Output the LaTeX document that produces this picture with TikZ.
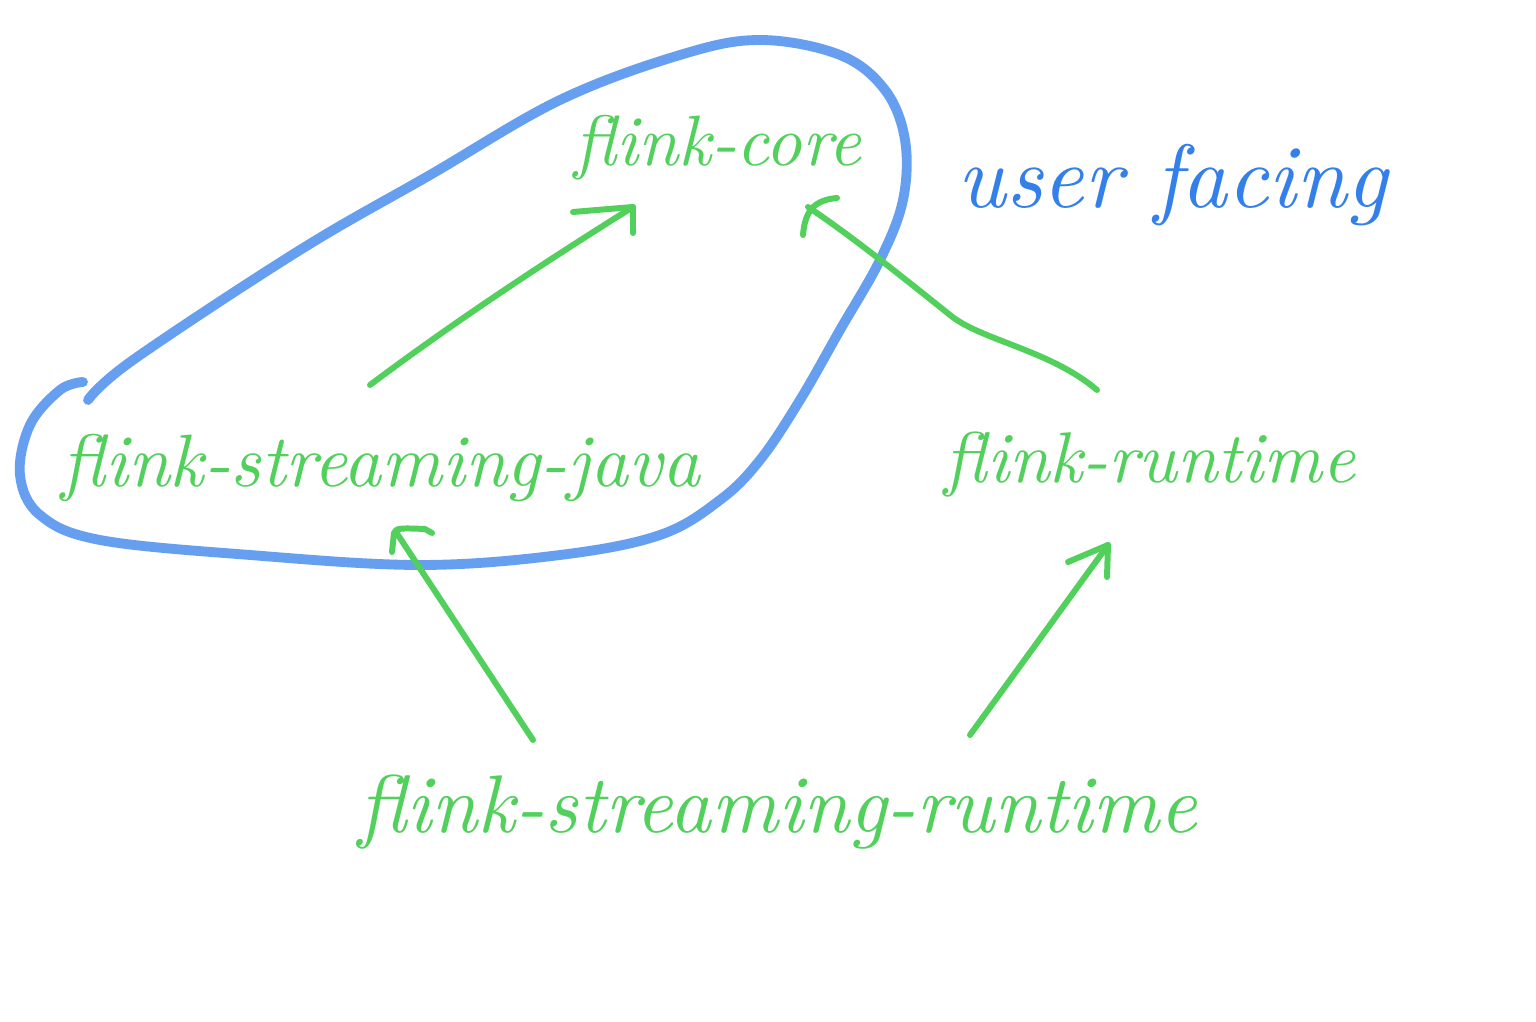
\documentclass[tikz,border=0pt]{standalone}
\usetikzlibrary{arrows.meta}
\definecolor{hgreen}{RGB}{82,208,92}
\definecolor{hblue}{RGB}{52,128,235}
\tikzset{
  lbl/.style={text=hgreen, inner sep=0pt},
  ulbl/.style={text=hblue, inner sep=0pt},
  link/.style={draw=hgreen, line width=1.7pt, line cap=round, line join=round},
  blob/.style={draw=hblue, line width=2.8pt, opacity=0.75, line cap=round, line join=round}
}
\begin{document}
\begin{tikzpicture}[x=0.01cm,y=-0.01cm]
\useasboundingbox[fill=white] (0,0) rectangle (1536,1022);

% blue outline around the user-facing modules
\draw[blob] plot[smooth, tension=0.6] coordinates {
  (88,400) (133,360) (300,250) (430,175) (560,100) (680,55) (760,40) (840,55)
  (885,90) (905,140) (903,200) (880,260) (840,330) (800,400) (760,460)
  (720,500) (660,535) (560,555) (420,565) (250,555) (100,540) (40,515)
  (20,475) (30,425) (60,390) (83,382)};

% labels
\node[lbl] (core) at (718,148) {\resizebox{2.87cm}{!}{\itshape flink-core}};
\node[ulbl] (uf) at (1173,185) {\resizebox{4.3cm}{!}{\itshape user facing}};
\node[lbl] (sj) at (381,468) {\resizebox{6.38cm}{!}{\itshape flink-streaming-java}};
\node[lbl] (rt) at (1150,465) {\resizebox{4.1cm}{!}{\itshape flink-runtime}};
\node[lbl] (sr) at (778,812) {\resizebox{8.38cm}{!}{\itshape flink-streaming-runtime}};

% connector end points
\coordinate (sjtop) at (370,385);
\coordinate (coretipL) at (633,207);
\coordinate (rttop) at (1097,390);
\coordinate (coretipR) at (808,207);
\coordinate (srL) at (533,740);
\coordinate (sjtip) at (396,532);
\coordinate (srR) at (970,735);
\coordinate (rttip) at (1108,545);

% sj -> core
\draw[link] (sjtop) .. controls (450,325) and (540,265) .. (coretipL);
\draw[link] (573,212) -- (coretipL) -- (633,233);
% rt -> core
\draw[link] (rttop) .. controls (1050,350) and (980,340) .. (950,315)
  .. controls (900,275) and (850,235) .. (coretipR);
\draw[link] (837,198) .. controls (815,200) and (805,210) .. (803,235);
% sr -> sj
\draw[link] (srL) -- (sjtip);
\draw[link] (392,552) -- (394,533) .. controls (396,528) and (400,528) .. (425,529) -- (432,533);
% sr -> rt
\draw[link] (srR) -- (rttip);
\draw[link] (1068,562) -- (rttip) -- (1107,577);
\end{tikzpicture}
\end{document}
